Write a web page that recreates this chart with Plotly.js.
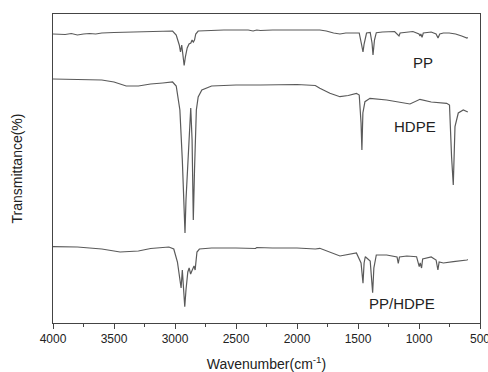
<!DOCTYPE html>
<html>
<head>
<meta charset="utf-8">
<script src="https://cdn.plot.ly/plotly-3.0.1.min.js"></script>
<style>html,body{margin:0;padding:0;background:#fff;}#chart{width:488px;height:372px;}</style>
</head>
<body>
<div id="chart"></div>
<script>
// Wavenumbers (cm^-1) and transmittance (arbitrary, offset) values
const ppWave = [4000,3900,3850,3800,3750,3700,3650,3600,3500,3300,3100,3020,2990,2965,2955,2945,2935,2925,2915,2900,2885,2870,2860,2850,2840,2830,2810,2750,2600,2400,2360,2330,2300,2200,2000,1900,1813,1760,1700,1648,1600,1541,1490,1470,1459,1450,1430,1400,1385,1377,1365,1350,1300,1200,1175,1164,1155,1100,1050,1000,992,985,975,965,900,860,844,830,800,753,700,650,607,600];
const ppT = [289,288.5,289.5,288,289,289.5,289,290,290.5,291,292,292,288,278,271,278,268,257.5,266,275,279,280,283,281,283,289,292,292.5,293,293,292,293,292.5,293,293.5,293,293,292,290,289,290,290,290,278,271,279,290,290.5,280,268,283,290.3,291,291.5,288,287,290,291,291.5,289,287,289,285.7,290,291,289,285,289,290,290,289,287,285,285.5];

const hdpeWave = [4000,3800,3600,3500,3400,3300,3200,3100,3020,2990,2960,2940,2925,2918,2910,2890,2871,2860,2850,2840,2825,2810,2780,2700,2500,2300,2000,1850,1813,1730,1648,1580,1513,1490,1475,1468,1460,1443,1402,1265,1074,992,900,773,750,733,719,705,678,637,607,600];
const hdpeT = [244,243.5,243,241,237,237,239,240,241,237,213,163,108,90,123,173,215,183,103,153,213,226,233,237,238,238,238.5,237.5,234.7,229.7,226.3,227.5,229.7,228,200,173,210,221.3,224.7,223,219,223.7,221,219.7,218,166.3,138,196.3,210,213,211.3,211];

const blendWave = [4000,3800,3600,3450,3300,3200,3050,3010,2980,2960,2950,2940,2928,2920,2910,2895,2884,2872,2862,2855,2844,2835,2820,2800,2700,2500,2340,2330,2200,2000,1850,1813,1648,1513,1475,1459,1450,1440,1400,1380,1370,1350,1265,1180,1170,1160,1100,1020,998,990,979,970,900,860,845,835,800,718,650,607,600];
const blendT = [76.3,76,74,71,72,74.5,76,74,61,43,35,53,33,16.3,33,51,55,49,52,55,57,53,71,74,75,75,74.5,75.5,75,75,74,74.7,67,70,60,39.7,60,66.3,62,30.3,55,68,68,66,59.7,66,67,66.3,56.3,60,55,64,66,63,53,61,60,61.3,62,63,63.5];

const seriesNames = ['PP','HDPE','PP/HDPE'];
const labelPos = [[967,261],[1033,197],[1139,20]];
const xTicks = [4000,3500,3000,2500,2000,1500,1000,500];

const lineStyle = {color:'#5a5a5a', width:1.2};
const traces = [
  {x:ppWave, y:ppT, name:seriesNames[0]},
  {x:hdpeWave, y:hdpeT, name:seriesNames[1]},
  {x:blendWave, y:blendT, name:seriesNames[2]}
].map(t => Object.assign(t, {type:'scatter', mode:'lines', line:lineStyle, hoverinfo:'skip'}));

const font = 'Liberation Sans, Arial, sans-serif';
const layout = {
  width:488, height:372,
  margin:{l:53, r:8, t:14, b:49},
  paper_bgcolor:'#fff', plot_bgcolor:'#fff',
  showlegend:false,
  font:{family:font, color:'#222'},
  xaxis:{
    range:[4000,500], tickmode:'array', tickvals:xTicks, ticktext:xTicks.map(String),
    ticklabeloverflow:'allow',
    ticks:'outside', ticklen:5, tickwidth:1, tickcolor:'#444',
    minor:{tickmode:'linear', tick0:250, dtick:250, ticks:'outside', ticklen:3, tickcolor:'#444'},
    showline:true, linecolor:'#444', linewidth:1, mirror:true,
    showgrid:false, zeroline:false,
    tickfont:{family:font, size:12, color:'#222'},
    title:{text:'Wavenumber(cm<sup>-1</sup>)', font:{family:font, size:14, color:'#222'}, standoff:14}
  },
  yaxis:{
    range:[0,309],
    showticklabels:false, ticks:'',
    showline:true, linecolor:'#444', linewidth:1, mirror:true,
    showgrid:false, zeroline:false,
    title:{text:'Transmittance(%)', font:{family:font, size:14, color:'#222'}, standoff:26}
  },
  annotations: seriesNames.map((n,i)=>({x:labelPos[i][0], y:labelPos[i][1], xref:'x', yref:'y', text:n, showarrow:false, font:{family:font, size:15, color:'#222'}}))
};

Plotly.newPlot('chart', traces, layout, {staticPlot:true, displayModeBar:false});
</script>
</body>
</html>
